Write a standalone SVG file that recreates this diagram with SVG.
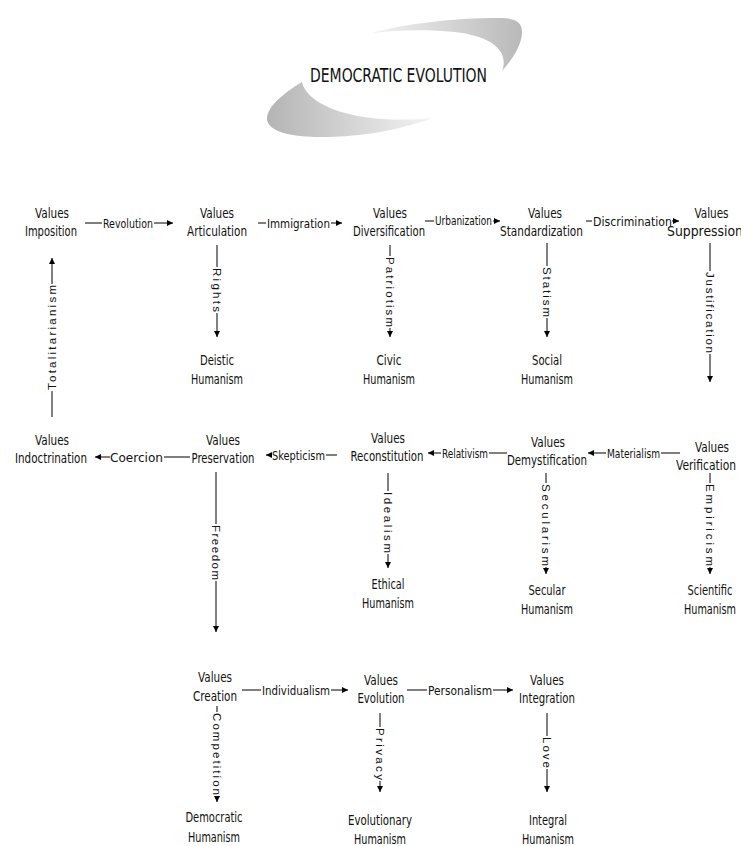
<svg xmlns="http://www.w3.org/2000/svg" width="741" height="846" viewBox="0 0 741 846">
<style>
  text { fill:#111; }
  .n { font-family:"Liberation Sans Narrow","DejaVu Sans Condensed","Liberation Sans",sans-serif; font-size:14px; text-anchor:middle; }
  .e { font-family:"Liberation Sans Narrow","DejaVu Sans Condensed","Liberation Sans",sans-serif; font-size:13px; text-anchor:middle; dominant-baseline:central; }
  .v { font-family:"Liberation Sans","DejaVu Sans",sans-serif; font-size:11.5px; text-anchor:middle; dominant-baseline:central; }
  .t { font-family:"Liberation Sans Narrow","DejaVu Sans Condensed","Liberation Sans",sans-serif; font-size:20px; text-anchor:middle; }
  .c line { stroke:#000; stroke-width:1; fill:none; }
  .a { marker-end:url(#ah); }
</style>
<defs>
  <marker id="ah" markerWidth="7" markerHeight="7" refX="6" refY="3" orient="auto" markerUnits="userSpaceOnUse">
    <path d="M0,0 L6,3 L0,6 z" fill="#000"/>
  </marker>
  <linearGradient id="gu" x1="0" y1="0" x2="1" y2="0">
    <stop offset="0" stop-color="#f2f2f2"/>
    <stop offset="1" stop-color="#b9b9b9"/>
  </linearGradient>
  <linearGradient id="gl" x1="0" y1="0" x2="1" y2="0">
    <stop offset="0" stop-color="#b4b4b4"/>
    <stop offset="1" stop-color="#f4f4f4"/>
  </linearGradient>
</defs>

<g id="title">
  <path d="M372,33 C405,24 450,18 500,18 C515,18 522,22 522,32 C522,45 512,60 502,71 C510,50 490,36 455,32 C425,29 395,30 372,33 Z" fill="url(#gu)"/>
  <path d="M302,82 C282,94 266,108 267,120 C270,133 295,138 330,137 C370,136 405,128 433,118 C400,121 370,120 345,113 C320,106 305,95 302,82 Z" fill="url(#gl)"/>
  <text class="t" x="398.5" y="82" textLength="177" lengthAdjust="spacingAndGlyphs">DEMOCRATIC EVOLUTION</text>
</g>

<!-- Row 1 -->
<g id="imposition"><text class="n" x="52" y="218" textLength="34" lengthAdjust="spacingAndGlyphs">Values</text><text class="n" x="51" y="236" textLength="52" lengthAdjust="spacingAndGlyphs">Imposition</text></g>
<g id="articulation"><text class="n" x="217" y="218" textLength="34" lengthAdjust="spacingAndGlyphs">Values</text><text class="n" x="217" y="236" textLength="60" lengthAdjust="spacingAndGlyphs">Articulation</text></g>
<g id="diversification"><text class="n" x="390" y="218" textLength="34" lengthAdjust="spacingAndGlyphs">Values</text><text class="n" x="389" y="236" textLength="72" lengthAdjust="spacingAndGlyphs">Diversification</text></g>
<g id="standardization"><text class="n" x="545" y="218" textLength="34" lengthAdjust="spacingAndGlyphs">Values</text><text class="n" x="541.5" y="236" textLength="83" lengthAdjust="spacingAndGlyphs">Standardization</text></g>
<g id="suppression"><text class="n" x="711.5" y="218" textLength="34" lengthAdjust="spacingAndGlyphs">Values</text><text class="n" x="667" y="236" style="text-anchor:start" textLength="76" lengthAdjust="spacingAndGlyphs">Suppression</text></g>

<g id="deistic"><text class="n" x="217" y="365" textLength="34" lengthAdjust="spacingAndGlyphs">Deistic</text><text class="n" x="217" y="384" textLength="52" lengthAdjust="spacingAndGlyphs">Humanism</text></g>
<g id="civic"><text class="n" x="389" y="365" textLength="25" lengthAdjust="spacingAndGlyphs">Civic</text><text class="n" x="389" y="384" textLength="52" lengthAdjust="spacingAndGlyphs">Humanism</text></g>
<g id="social"><text class="n" x="547" y="365" textLength="30" lengthAdjust="spacingAndGlyphs">Social</text><text class="n" x="547" y="384" textLength="52" lengthAdjust="spacingAndGlyphs">Humanism</text></g>

<!-- Row 2 -->
<g id="indoctrination"><text class="n" x="52" y="445" textLength="34" lengthAdjust="spacingAndGlyphs">Values</text><text class="n" x="51" y="463" textLength="72" lengthAdjust="spacingAndGlyphs">Indoctrination</text></g>
<g id="preservation"><text class="n" x="223" y="445" textLength="34" lengthAdjust="spacingAndGlyphs">Values</text><text class="n" x="223" y="463" textLength="63" lengthAdjust="spacingAndGlyphs">Preservation</text></g>
<g id="reconstitution"><text class="n" x="388" y="443" textLength="34" lengthAdjust="spacingAndGlyphs">Values</text><text class="n" x="387" y="461" textLength="73" lengthAdjust="spacingAndGlyphs">Reconstitution</text></g>
<g id="demystification"><text class="n" x="548" y="447" textLength="34" lengthAdjust="spacingAndGlyphs">Values</text><text class="n" x="547" y="465" textLength="80" lengthAdjust="spacingAndGlyphs">Demystification</text></g>
<g id="verification"><text class="n" x="712" y="452" textLength="34" lengthAdjust="spacingAndGlyphs">Values</text><text class="n" x="706" y="470" textLength="60" lengthAdjust="spacingAndGlyphs">Verification</text></g>

<g id="ethical"><text class="n" x="388" y="589" textLength="33" lengthAdjust="spacingAndGlyphs">Ethical</text><text class="n" x="388" y="608" textLength="52" lengthAdjust="spacingAndGlyphs">Humanism</text></g>
<g id="secular"><text class="n" x="547" y="595" textLength="37" lengthAdjust="spacingAndGlyphs">Secular</text><text class="n" x="547" y="614" textLength="52" lengthAdjust="spacingAndGlyphs">Humanism</text></g>
<g id="scientific"><text class="n" x="710" y="595" textLength="45" lengthAdjust="spacingAndGlyphs">Scientific</text><text class="n" x="710" y="614" textLength="52" lengthAdjust="spacingAndGlyphs">Humanism</text></g>

<!-- Row 3 -->
<g id="creation"><text class="n" x="215" y="682" textLength="34" lengthAdjust="spacingAndGlyphs">Values</text><text class="n" x="215" y="701" textLength="44" lengthAdjust="spacingAndGlyphs">Creation</text></g>
<g id="evolution"><text class="n" x="381" y="685" textLength="34" lengthAdjust="spacingAndGlyphs">Values</text><text class="n" x="381" y="703" textLength="47" lengthAdjust="spacingAndGlyphs">Evolution</text></g>
<g id="integration"><text class="n" x="547" y="685" textLength="34" lengthAdjust="spacingAndGlyphs">Values</text><text class="n" x="547" y="703" textLength="56" lengthAdjust="spacingAndGlyphs">Integration</text></g>

<g id="democratic"><text class="n" x="214" y="822" textLength="57" lengthAdjust="spacingAndGlyphs">Democratic</text><text class="n" x="214" y="842" textLength="52" lengthAdjust="spacingAndGlyphs">Humanism</text></g>
<g id="evolutionary"><text class="n" x="380" y="825" textLength="64" lengthAdjust="spacingAndGlyphs">Evolutionary</text><text class="n" x="380" y="844" textLength="52" lengthAdjust="spacingAndGlyphs">Humanism</text></g>
<g id="integral"><text class="n" x="548" y="825" textLength="38" lengthAdjust="spacingAndGlyphs">Integral</text><text class="n" x="548" y="844" textLength="52" lengthAdjust="spacingAndGlyphs">Humanism</text></g>

<g id="connectors" class="c">
  <!-- Row 1 horizontal -->
  <line x1="85" y1="223" x2="102" y2="223"/><text class="e" x="128" y="223" textLength="50" lengthAdjust="spacingAndGlyphs">Revolution</text><line class="a" x1="154" y1="223" x2="173" y2="223"/>
  <line x1="258" y1="223" x2="266" y2="223"/><text class="e" x="298.5" y="223" textLength="63" lengthAdjust="spacingAndGlyphs">Immigration</text><line class="a" x1="331" y1="223" x2="342" y2="223"/>
  <line x1="425" y1="221" x2="434" y2="221"/><text class="e" x="463.5" y="221" style="font-size:11.5px" textLength="57" lengthAdjust="spacingAndGlyphs">Urbanization</text><line class="a" x1="493" y1="221" x2="500" y2="221"/>
  <line x1="586" y1="221" x2="592" y2="221"/><text class="e" x="632.5" y="221" textLength="79" lengthAdjust="spacingAndGlyphs">Discrimination</text><line class="a" x1="672" y1="221" x2="679" y2="221"/>
  <!-- Row 1 vertical -->
  <line x1="217" y1="245" x2="217" y2="267"/><text class="v" transform="translate(217,290) rotate(90)" textLength="44" lengthAdjust="spacing">Rights</text><line class="a" x1="217" y1="313" x2="217" y2="337"/>
  <line x1="390" y1="245" x2="390" y2="256"/><text class="v" transform="translate(390,292) rotate(90)" textLength="70" lengthAdjust="spacing">Patriotism</text><line class="a" x1="390" y1="328" x2="390" y2="337"/>
  <line x1="547" y1="243" x2="547" y2="266"/><text class="v" transform="translate(547,292) rotate(90)" textLength="50" lengthAdjust="spacing">Statism</text><line class="a" x1="547" y1="318" x2="547" y2="337"/>
  <line x1="710" y1="243" x2="710" y2="271"/><text class="v" transform="translate(710,312.5) rotate(90)" textLength="81" lengthAdjust="spacing">Justification</text><line class="a" x1="710" y1="354" x2="710" y2="382"/>
  <line x1="52" y1="417" x2="52" y2="391"/><text class="v" transform="translate(52,337.5) rotate(-90)" textLength="105" lengthAdjust="spacing">Totalitarianism</text><line class="a" x1="52" y1="284" x2="52" y2="258"/>
  <!-- Row 2 horizontal -->
  <line class="a" x1="110" y1="457" x2="95" y2="457"/><text class="e" x="136.5" y="457" textLength="53" lengthAdjust="spacingAndGlyphs">Coercion</text><line x1="164" y1="457" x2="190" y2="457"/>
  <line class="a" x1="272" y1="455" x2="266" y2="455"/><text class="e" x="298.5" y="455" textLength="53" lengthAdjust="spacingAndGlyphs">Skepticism</text><line x1="326" y1="455" x2="337" y2="455"/>
  <line class="a" x1="441" y1="453" x2="428" y2="453"/><text class="e" x="465" y="453" textLength="46" lengthAdjust="spacingAndGlyphs">Relativism</text><line x1="489" y1="453" x2="507" y2="453"/>
  <line class="a" x1="606" y1="453" x2="588" y2="453"/><text class="e" x="633.5" y="453" textLength="53" lengthAdjust="spacingAndGlyphs">Materialism</text><line x1="661" y1="453" x2="680" y2="453"/>
  <!-- Row 2 vertical -->
  <line x1="216" y1="472" x2="216" y2="524"/><text class="v" transform="translate(216,552.5) rotate(90)" textLength="55" lengthAdjust="spacing">Freedom</text><line class="a" x1="216" y1="581" x2="216" y2="632"/>
  <line x1="388" y1="473" x2="388" y2="491"/><text class="v" transform="translate(388,522.5) rotate(90)" textLength="61" lengthAdjust="spacing">Idealism</text><line class="a" x1="388" y1="554" x2="388" y2="568"/>
  <line x1="546" y1="473" x2="546" y2="483"/><text class="v" transform="translate(546,525) rotate(90)" textLength="82" lengthAdjust="spacing">Secularism</text><line class="a" x1="546" y1="567" x2="546" y2="574"/>
  <line x1="710" y1="473" x2="710" y2="483"/><text class="v" transform="translate(710,525) rotate(90)" textLength="82" lengthAdjust="spacing">Empiricism</text><line class="a" x1="710" y1="567" x2="710" y2="574"/>
  <!-- Row 3 horizontal -->
  <line x1="242" y1="690" x2="261" y2="690"/><text class="e" x="296" y="690" textLength="68" lengthAdjust="spacingAndGlyphs">Individualism</text><line class="a" x1="331" y1="690" x2="348" y2="690"/>
  <line x1="407" y1="690" x2="427" y2="690"/><text class="e" x="460" y="690" textLength="64" lengthAdjust="spacingAndGlyphs">Personalism</text><line class="a" x1="493" y1="690" x2="513" y2="690"/>
  <!-- Row 3 vertical -->
  <line x1="217" y1="706" x2="217" y2="712"/><text class="v" transform="translate(217,754) rotate(90)" textLength="82" lengthAdjust="spacing">Competition</text><line class="a" x1="217" y1="796" x2="217" y2="802"/>
  <line x1="380" y1="713" x2="380" y2="727"/><text class="v" transform="translate(380,754) rotate(90)" textLength="52" lengthAdjust="spacing">Privacy</text><line class="a" x1="380" y1="781" x2="380" y2="792"/>
  <line x1="547" y1="713" x2="547" y2="736"/><text class="v" transform="translate(547,752.5) rotate(90)" textLength="31" lengthAdjust="spacing">Love</text><line class="a" x1="547" y1="769" x2="547" y2="792"/>
</g>
</svg>
